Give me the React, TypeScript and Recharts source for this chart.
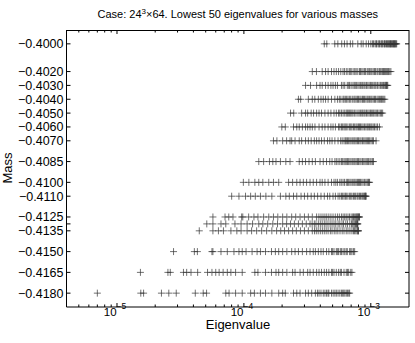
import { ScatterChart, Scatter, XAxis, YAxis } from "recharts";

// masses (one row of markers each)
const masses = [
  -0.4, -0.402, -0.403, -0.404, -0.405, -0.406, -0.407, -0.4085,
  -0.41, -0.411, -0.4125, -0.413, -0.4135, -0.415, -0.4165, -0.418,
];
// tick labels on the mass axis (-0.4130 has a tick but no label)
const massLabels = [
  "−0.4000", "−0.4020", "−0.4030", "−0.4040", "−0.4050", "−0.4060", "−0.4070", "−0.4085",
  "−0.4100", "−0.4110", "−0.4125", "", "−0.4135", "−0.4150", "−0.4165", "−0.4180",
];

// lowest 50 eigenvalues per mass, in units of 1e-4
const eig4000 = [4.3, 4.5, 5.2, 5.5, 5.9, 6.2, 6.5, 6.9, 7.2, 7.9, 8.4, 8.7, 9.2, 9.6, 10.0, 10.3, 10.5, 10.8, 11.0, 11.1, 11.4, 11.6, 11.7, 12.0, 12.2, 12.3, 12.5, 12.8, 12.9, 13.0, 13.3, 13.4, 13.6, 13.7, 13.9, 14.0, 14.2, 14.3, 14.4, 14.6, 14.7, 14.9, 15.0, 15.1, 15.3, 15.4, 15.5, 15.7, 15.8, 16.0];
const eig4020 = [3.46, 3.73, 4.14, 4.4, 4.61, 4.9, 5.13, 5.35, 5.57, 5.8, 6.04, 6.2, 6.41, 6.6, 6.81, 6.95, 7.1, 7.36, 7.5, 7.67, 7.9, 8.15, 8.3, 8.5, 8.7, 8.93, 9.1, 9.37, 9.55, 9.78, 10.0, 10.2, 10.45, 10.7, 10.9, 11.2, 11.4, 11.7, 11.9, 12.2, 12.4, 12.6, 12.8, 13.0, 13.2, 13.4, 13.6, 13.8, 14.1, 14.4];
const eig4030 = [3.06, 3.35, 3.74, 3.98, 4.14, 4.4, 4.61, 4.85, 5.04, 5.26, 5.46, 5.87, 6.05, 6.23, 6.53, 6.7, 6.81, 7.0, 7.23, 7.4, 7.54, 7.7, 7.91, 8.1, 8.31, 8.5, 8.65, 8.85, 9.02, 9.25, 9.47, 9.7, 9.93, 10.1, 10.35, 10.6, 10.8, 11.0, 11.3, 11.6, 11.9, 12.1, 12.4, 12.6, 12.9, 13.0, 13.2, 13.3, 13.45, 13.6];
const eig4040 = [2.69, 2.8, 3.22, 3.46, 3.62, 3.86, 4.05, 4.22, 4.4, 4.61, 4.9, 5.21, 5.46, 5.65, 5.81, 6.04, 6.15, 6.3, 6.45, 6.61, 6.78, 6.95, 7.15, 7.36, 7.5, 7.67, 7.85, 8.0, 8.2, 8.38, 8.6, 8.75, 8.93, 9.15, 9.37, 9.55, 9.78, 10.0, 10.2, 10.45, 10.7, 10.9, 11.2, 11.45, 11.7, 11.95, 12.15, 12.4, 12.65, 12.9];
const eig4050 = [2.33, 2.47, 2.85, 3.06, 3.18, 3.39, 3.54, 3.74, 3.91, 4.09, 4.35, 4.61, 4.85, 5.13, 5.35, 5.57, 5.7, 5.87, 6.05, 6.23, 6.4, 6.53, 6.65, 6.81, 6.95, 7.1, 7.25, 7.46, 7.65, 7.91, 8.1, 8.31, 8.5, 8.65, 8.85, 9.02, 9.25, 9.47, 9.7, 9.93, 10.1, 10.35, 10.55, 10.8, 11.05, 11.3, 11.6, 11.9, 12.15, 12.4];
const eig4060 = [1.99, 2.12, 2.46, 2.61, 2.73, 2.89, 3.06, 3.18, 3.32, 3.46, 3.63, 3.91, 4.14, 4.35, 4.61, 4.85, 5.04, 5.26, 5.57, 5.7, 5.87, 6.0, 6.15, 6.28, 6.41, 6.6, 6.81, 6.95, 7.1, 7.3, 7.46, 7.65, 7.81, 8.0, 8.15, 8.3, 8.5, 8.7, 8.93, 9.15, 9.37, 9.55, 9.78, 10.0, 10.2, 10.45, 10.7, 11.0, 11.3, 11.7];
const eig4070 = [1.71, 1.82, 2.02, 2.17, 2.31, 2.38, 2.53, 2.73, 2.85, 3.06, 3.22, 3.39, 3.59, 3.74, 3.91, 4.09, 4.3, 4.56, 4.75, 4.95, 5.21, 5.52, 5.79, 5.95, 6.15, 6.3, 6.41, 6.55, 6.69, 6.85, 7.0, 7.2, 7.36, 7.5, 7.67, 7.85, 8.0, 8.2, 8.38, 8.6, 8.8, 9.0, 9.2, 9.4, 9.6, 9.8, 10.05, 10.3, 10.5, 11.0];
const eig4085 = [1.31, 1.43, 1.59, 1.69, 1.79, 1.94, 2.14, 2.31, 2.73, 2.89, 3.06, 3.26, 3.46, 3.66, 3.98, 4.22, 4.48, 4.75, 4.95, 5.21, 5.35, 5.52, 5.7, 5.87, 6.0, 6.15, 6.28, 6.41, 6.55, 6.69, 6.85, 7.0, 7.2, 7.36, 7.5, 7.67, 7.85, 8.0, 8.2, 8.38, 8.6, 8.8, 9.0, 9.2, 9.4, 9.6, 9.85, 10.05, 10.3, 10.5];
const eig4100 = [0.99, 1.094, 1.22, 1.31, 1.41, 1.57, 1.71, 1.88, 2.25, 2.42, 2.61, 2.77, 2.94, 3.12, 3.32, 3.52, 3.74, 3.98, 4.14, 4.35, 4.61, 4.9, 5.13, 5.3, 5.46, 5.7, 5.85, 6.04, 6.2, 6.41, 6.55, 6.69, 6.85, 7.0, 7.2, 7.36, 7.5, 7.67, 7.85, 8.0, 8.15, 8.3, 8.5, 8.7, 8.93, 9.15, 9.37, 9.55, 9.65, 9.78];
const eig4110 = [0.801, 0.914, 1.03, 1.13, 1.23, 1.35, 1.49, 1.66, 1.94, 2.14, 2.28, 2.46, 2.61, 2.82, 3.0, 3.18, 3.39, 3.59, 3.81, 4.05, 4.3, 4.56, 4.75, 5.04, 5.26, 5.52, 5.7, 5.87, 6.0, 6.15, 6.3, 6.41, 6.6, 6.81, 6.95, 7.1, 7.3, 7.46, 7.6, 7.81, 7.95, 8.15, 8.3, 8.5, 8.65, 8.8, 8.93, 9.05, 9.1, 9.2];
const eig4125 = [0.57, 0.71, 0.76, 0.82, 0.96, 0.98, 1.09, 1.2, 1.29, 1.43, 1.57, 1.71, 1.85, 2.02, 2.18, 2.38, 2.56, 2.77, 3.0, 3.22, 3.46, 3.74, 3.9, 4.05, 4.2, 4.35, 4.5, 4.67, 4.85, 5.04, 5.25, 5.46, 5.65, 5.87, 6.05, 6.23, 6.4, 6.61, 6.8, 7.0, 7.2, 7.3, 7.46, 7.6, 7.75, 7.8, 7.91, 8.0, 8.1, 8.15];
const eig4130 = [0.51, 0.57, 0.66, 0.72, 0.85, 0.95, 1.06, 1.17, 1.31, 1.41, 1.54, 1.69, 1.84, 2.02, 2.17, 2.33, 2.5, 2.69, 2.89, 3.1, 3.32, 3.45, 3.59, 3.7, 3.86, 4.0, 4.14, 4.3, 4.44, 4.6, 4.78, 4.95, 5.13, 5.3, 5.52, 5.7, 5.93, 6.1, 6.35, 6.55, 6.83, 7.05, 7.2, 7.36, 7.5, 7.6, 7.7, 7.8, 7.85, 7.91];
const eig4135 = [0.445, 0.57, 0.63, 0.69, 0.79, 0.88, 0.95, 1.06, 1.15, 1.26, 1.38, 1.51, 1.66, 1.81, 1.95, 2.09, 2.25, 2.42, 2.59, 2.79, 3.0, 3.22, 3.46, 3.6, 3.72, 3.85, 4.0, 4.15, 4.3, 4.45, 4.61, 4.8, 4.95, 5.15, 5.32, 5.5, 5.72, 5.95, 6.15, 6.4, 6.61, 6.85, 7.1, 7.3, 7.45, 7.62, 7.8, 7.9, 7.95, 8.0];
const eig4150 = [0.279, 0.407, 0.43, 0.56, 0.57, 0.66, 0.74, 0.835, 0.914, 0.97, 1.04, 1.16, 1.27, 1.35, 1.48, 1.65, 1.77, 1.88, 2.02, 2.18, 2.38, 2.53, 2.69, 2.89, 3.12, 3.32, 3.52, 3.66, 3.86, 4.05, 4.22, 4.48, 4.67, 4.9, 5.0, 5.13, 5.35, 5.45, 5.57, 5.75, 5.87, 6.05, 6.23, 6.4, 6.53, 6.81, 6.95, 7.1, 7.3, 7.46];
const eig4165 = [0.153, 0.252, 0.263, 0.334, 0.354, 0.383, 0.432, 0.517, 0.56, 0.6, 0.638, 0.686, 0.74, 0.79, 0.86, 0.97, 1.22, 1.29, 1.48, 1.65, 1.79, 1.88, 2.02, 2.18, 2.42, 2.53, 2.77, 2.94, 3.18, 3.32, 3.52, 3.74, 3.91, 4.09, 4.3, 4.48, 4.67, 4.9, 5.0, 5.13, 5.35, 5.57, 5.75, 5.87, 6.15, 6.41, 6.55, 6.69, 6.95, 7.1];
const eig4180 = [0.07, 0.154, 0.162, 0.224, 0.256, 0.293, 0.414, 0.478, 0.508, 0.72, 0.764, 0.86, 0.97, 1.13, 1.21, 1.35, 1.48, 1.66, 1.88, 2.02, 2.12, 2.46, 2.61, 2.77, 3.06, 3.22, 3.42, 3.66, 3.8, 3.91, 4.05, 4.22, 4.35, 4.48, 4.6, 4.67, 4.9, 5.05, 5.21, 5.35, 5.52, 5.7, 5.87, 6.0, 6.12, 6.25, 6.41, 6.55, 6.7, 6.81];

const eigRows = [
  eig4000, eig4020, eig4030, eig4040, eig4050, eig4060, eig4070, eig4085,
  eig4100, eig4110, eig4125, eig4130, eig4135, eig4150, eig4165, eig4180,
];

// log axis ticks
const xMajor = [1e-5, 1e-4, 1e-3];
const xMajorExp = ["−5", "−4", "−3"];
const xMinor = [
  5e-6, 6e-6, 7e-6, 8e-6, 9e-6,
  2e-5, 3e-5, 4e-5, 5e-5, 6e-5, 7e-5, 8e-5, 9e-5,
  2e-4, 3e-4, 4e-4, 5e-4, 6e-4, 7e-4, 8e-4, 9e-4,
];
const xTicks = [...xMinor, ...xMajor].sort((a, b) => a - b);
const xDomain = [4e-6, 2e-3];
const yDomain = [-0.419, -0.399];

const points = masses.flatMap((m, i) => eigRows[i].map((v) => ({ x: v * 1e-4, y: m })));

const FONT = "'Liberation Sans', Arial, Helvetica, sans-serif";
const PLOT_TOP = 30; // chart top margin = upper edge of the box

const Plus = ({ cx, cy }: any) => {
  if (cx == null || cy == null) return null;
  const r = 3.5;
  return (
    <path
      d={`M${cx - r},${cy}H${cx + r}M${cx},${cy - r}V${cy + r}`}
      stroke="#333"
      strokeWidth={0.7}
      fill="none"
    />
  );
};

// bottom tick + label, with the matching inward tick on the top edge of the box
const XTick = ({ x, y, payload }: any) => {
  const i = xMajor.indexOf(payload.value);
  const len = i >= 0 ? 4 : 2.5;
  return (
    <g>
      <line x1={x} y1={y} x2={x} y2={y - len} stroke="#000" strokeWidth={1} />
      <line x1={x} y1={PLOT_TOP} x2={x} y2={PLOT_TOP + len} stroke="#000" strokeWidth={1} />
      {i >= 0 && (
        <text x={x - 2} y={y + 8.5} textAnchor="middle" fontFamily={FONT} fontSize={11.5} fill="#000">
          10
          <tspan dy={-7} fontSize={8.5}>{xMajorExp[i]}</tspan>
        </text>
      )}
    </g>
  );
};

const YTick = ({ x, y, payload, side }: any) => {
  const i = masses.indexOf(payload.value);
  const dir = side === "left" ? 1 : -1;
  return (
    <g>
      <line x1={x} y1={y} x2={x + dir * 4} y2={y} stroke="#000" strokeWidth={1} />
      {side === "left" && (
        <text x={x - 3} y={y} dy="0.36em" textAnchor="end" fontFamily={FONT} fontSize={12.5} fill="#000">
          {massLabels[i]}
        </text>
      )}
    </g>
  );
};

export default function App() {
  return (
    <div style={{ position: "absolute", left: 0, top: 0, width: 415, height: 343, background: "#fff", fontFamily: FONT }}>
      <ScatterChart width={415} height={343} margin={{ top: PLOT_TOP, right: 0, bottom: 0, left: 0 }}>
        <XAxis
          xAxisId="b"
          dataKey="x"
          type="number"
          scale="log"
          domain={xDomain}
          allowDataOverflow
          ticks={xTicks}
          interval={0}
          height={36}
          tickSize={0}
          tickMargin={0}
          tickLine={false}
          axisLine={{ stroke: "#000" }}
          tick={(p: any) => <XTick {...p} />}
        />
        <YAxis
          yAxisId="l"
          dataKey="y"
          type="number"
          domain={yDomain}
          allowDataOverflow
          ticks={masses}
          interval={0}
          width={66.5}
          tickSize={0}
          tickMargin={0}
          tickLine={false}
          axisLine={{ stroke: "#000" }}
          tick={(p: any) => <YTick {...p} side="left" />}
        />
        <YAxis
          yAxisId="r"
          orientation="right"
          dataKey="y"
          type="number"
          domain={yDomain}
          allowDataOverflow
          ticks={masses}
          interval={0}
          width={6}
          tickSize={0}
          tickMargin={0}
          tickLine={false}
          axisLine={{ stroke: "#000" }}
          tick={(p: any) => <YTick {...p} side="right" />}
        />
        <Scatter data={points} xAxisId="b" yAxisId="l" shape={(p: any) => <Plus {...p} />} isAnimationActive={false} />
        <Scatter data={[{ x: 1e-4, y: -0.41 }]} xAxisId="b" yAxisId="r" shape={() => <g />} isAnimationActive={false} />
      </ScatterChart>
      {/* top edge of the box */}
      <div style={{ position: "absolute", left: 66.5, width: 342.5, top: PLOT_TOP - 0.5, height: 0, borderTop: "1px solid #000" }} />
      <div style={{ position: "absolute", left: 66.5, width: 342.5, top: 7, textAlign: "center", fontSize: 11, lineHeight: "14px", whiteSpace: "nowrap" }}>
        Case: 24<span style={{ fontSize: 8, position: "relative", top: -4 }}>3</span>×64. Lowest 50 eigenvalues for various masses
      </div>
      <div style={{ position: "absolute", left: 238 - 50, width: 100, top: 317, textAlign: "center", fontSize: 13, lineHeight: "16px" }}>
        Eigenvalue
      </div>
      <div style={{ position: "absolute", left: 8 - 30, width: 60, top: 168 - 8, textAlign: "center", fontSize: 13, lineHeight: "16px", transform: "rotate(-90deg)" }}>
        Mass
      </div>
    </div>
  );
}
